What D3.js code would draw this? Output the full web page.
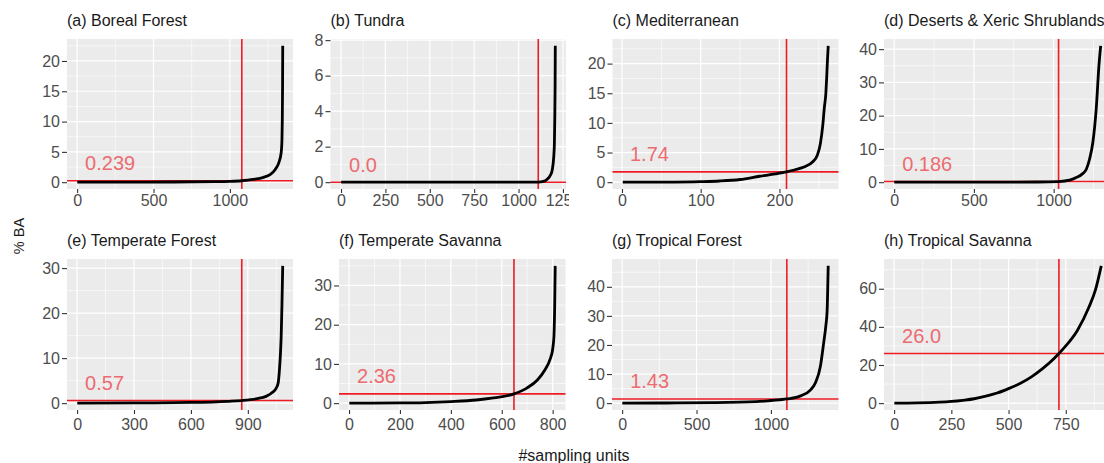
<!DOCTYPE html>
<html>
<head>
<meta charset="utf-8">
<script src="https://cdn.jsdelivr.net/npm/d3@7"></script>
<style>
  body { margin: 0; background: #fff; }
  svg { display: block; font-family: "Liberation Sans", Arial, sans-serif; }
</style>
</head>
<body>
<div id="wrapper"></div>
<script>
// 1. Data

const biomes = ["(a) Boreal Forest", "(b) Tundra", "(c) Mediterranean", "(d) Deserts & Xeric Shrublands",
  "(e) Temperate Forest", "(f) Temperate Savanna", "(g) Tropical Forest", "(h) Tropical Savanna"]

const cutRank = [1078, 1111, 209, 1031, 868, 648, 1107, 720]
const cutValue = [0.239, 0.0, 1.74, 0.186, 0.57, 2.36, 1.43, 26.0]
const cutLabel = ["0.239", "0.0", "1.74", "0.186", "0.57", "2.36", "1.43", "26.0"]

const xTicks = [
  [0, 500, 1000], [0, 250, 500, 750, 1000, 1250], [0, 100, 200], [0, 500, 1000],
  [0, 300, 600, 900], [0, 200, 400, 600, 800], [0, 500, 1000], [0, 250, 500, 750]]
const yTicks = [
  [0, 5, 10, 15, 20], [0, 2, 4, 6, 8], [0, 5, 10, 15, 20], [0, 10, 20, 30, 40],
  [0, 10, 20, 30], [0, 10, 20, 30], [0, 10, 20, 30, 40], [0, 20, 40, 60]]

// sorted %BA per sampling unit: [rank, value]
const borealForest = [[1, 0], [300, 0.01], [600, 0.03], [900, 0.08], [1000, 0.13], [1078, 0.239],
  [1150, 0.45], [1220, 0.8], [1265, 1.3], [1297, 2.1], [1320, 3.2], [1336, 4.9], [1341, 7],
  [1343, 10], [1345, 16], [1346, 22.5]]
const tundra = [[1, 0], [600, 0], [1111, 0], [1140, 0.04], [1160, 0.15], [1180, 0.4], [1190, 0.7],
  [1198, 1.4], [1202, 2.2], [1204, 3.5], [1206, 5.5], [1207, 7.68]]
const mediterranean = [[1, 0], [50, 0.02], [100, 0.1], [124, 0.2], [150, 0.45], [175, 1.0], [195, 1.4],
  [209, 1.74], [220, 2.1], [232, 2.6], [242, 3.4], [248, 4.5], [252, 6.5], [255, 9.5], [257, 12.5],
  [259, 15], [260, 17.5], [261, 20.5], [262, 23]]
const deserts = [[1, 0], [500, 0.01], [900, 0.05], [1031, 0.186], [1100, 0.6], [1142, 1.4], [1180, 2.5],
  [1205, 3.9], [1225, 6.9], [1246, 12], [1267, 22], [1284, 35], [1295, 41]]
const temperateForest = [[1, 0], [300, 0.05], [600, 0.15], [800, 0.4], [868, 0.57], [950, 1.0], [996, 1.5],
  [1030, 2.4], [1049, 3.3], [1060, 4.5], [1066, 7], [1072, 11], [1076, 15], [1080, 22], [1084, 30.5]]
const temperateSavanna = [[1, 0], [200, 0.05], [300, 0.15], [400, 0.4], [500, 0.8], [560, 1.25], [648, 2.36],
  [700, 3.9], [740, 5.9], [770, 8.5], [790, 11.2], [800, 13.75], [805, 17], [808, 25], [810, 35]]
const tropicalForest = [[1, 0], [300, 0.05], [600, 0.15], [900, 0.5], [1000, 0.9], [1107, 1.43], [1200, 2.5],
  [1265, 4.5], [1300, 7.1], [1333, 12.8], [1355, 20.9], [1370, 27], [1378, 32], [1382, 40], [1385, 47.2]]
const tropicalSavanna = [[1, 0], [100, 0.1], [200, 0.5], [250, 0.9], [300, 1.5], [350, 2.3], [400, 3.7],
  [450, 5.3], [500, 7.6], [550, 10.3], [600, 13.8], [650, 18.2], [700, 23.5], [720, 26], [750, 30],
  [800, 38], [850, 50], [880, 59.5], [905, 72]]

const curves = [borealForest, tundra, mediterranean, deserts,
  temperateForest, temperateSavanna, tropicalForest, tropicalSavanna]

// 2. Layout

const width = 1104
const height = 463
const panelLeft = [67, 330.5, 612.5, 884, 67, 339, 612, 884]
const panelRight = [293, 566, 838.5, 1111, 293, 565.5, 838.5, 1111.6]
const rowTop = [39, 259]
const rowBottom = [189, 410]
const colClip = [[0, 300], [300, 569], [569, 846], [846, width]]

const wrapper = d3.select("#wrapper")
  .append("svg")
    .attr("width", width)
    .attr("height", height)

const defs = wrapper.append("defs")

curves.forEach((data, i) => {
  const row = i < 4 ? 0 : 1
  const col = i % 4
  const left = panelLeft[i], right = panelRight[i]
  const top = rowTop[row], bottom = rowBottom[row]

  const n = d3.max(data, d => d[0])
  const yMax = d3.max(data, d => d[1])
  const xPad = 0.05 * (n - 1)
  const yPad = 0.05 * yMax

  const xScale = d3.scaleLinear()
    .domain([1 - xPad, n + xPad])
    .range([left, right])
  const yScale = d3.scaleLinear()
    .domain([-yPad, yMax + yPad])
    .range([bottom, top])

  defs.append("clipPath")
      .attr("id", "clip" + i)
    .append("rect")
      .attr("x", colClip[col][0])
      .attr("y", row ? 225 : 0)
      .attr("width", colClip[col][1] - colClip[col][0])
      .attr("height", row ? height - 225 : 225)

  const bounds = wrapper.append("g")
      .attr("clip-path", `url(#clip${i})`)

  // panel background
  bounds.append("rect")
      .attr("x", left)
      .attr("y", top)
      .attr("width", right - left)
      .attr("height", bottom - top)
      .attr("fill", "#EBEBEB")

  // minor + major grid
  const minor = (ticks, scale) => {
    const step = ticks[1] - ticks[0]
    const dom = scale.domain()
    const out = []
    for (let v = ticks[0] - step / 2; v <= dom[1]; v += step) {
      if (v >= dom[0]) out.push(v)
    }
    return out
  }

  const grid = bounds.append("g").attr("stroke", "#fff")
  grid.selectAll(".xminor")
    .data(minor(xTicks[i], xScale))
    .join("line")
      .attr("x1", d => xScale(d)).attr("x2", d => xScale(d))
      .attr("y1", top).attr("y2", bottom)
      .attr("stroke-width", 0.6)
  grid.selectAll(".yminor")
    .data(minor(yTicks[i], yScale))
    .join("line")
      .attr("y1", d => yScale(d)).attr("y2", d => yScale(d))
      .attr("x1", left).attr("x2", right)
      .attr("stroke-width", 0.6)
  grid.selectAll(".xmajor")
    .data(xTicks[i])
    .join("line")
      .attr("x1", d => xScale(d)).attr("x2", d => xScale(d))
      .attr("y1", top).attr("y2", bottom)
      .attr("stroke-width", 1.2)
  grid.selectAll(".ymajor")
    .data(yTicks[i])
    .join("line")
      .attr("y1", d => yScale(d)).attr("y2", d => yScale(d))
      .attr("x1", left).attr("x2", right)
      .attr("stroke-width", 1.2)

  // threshold lines
  bounds.append("line")
      .attr("x1", left).attr("x2", right)
      .attr("y1", yScale(cutValue[i])).attr("y2", yScale(cutValue[i]))
      .attr("stroke", "#EE1C25")
      .attr("stroke-width", 1.6)
  bounds.append("line")
      .attr("x1", xScale(cutRank[i])).attr("x2", xScale(cutRank[i]))
      .attr("y1", top).attr("y2", bottom)
      .attr("stroke", "#EE1C25")
      .attr("stroke-width", 1.6)

  // the sorted curve
  const lineGenerator = d3.line()
    .curve(d3.curveMonotoneX)
    .x(d => xScale(d[0]))
    .y(d => yScale(d[1]))

  bounds.append("path")
      .attr("d", lineGenerator(data))
      .attr("fill", "none")
      .attr("stroke", "#000")
      .attr("stroke-width", 2.8)
      .attr("stroke-linejoin", "round")

  bounds.append("text")
      .attr("x", xScale(0) + 8)
      .attr("y", yScale(cutValue[i]) - 10.5)
      .attr("fill", "#EC6B71")
      .style("font-size", "20px")
      .text(cutLabel[i])

  // axes
  const xAxis = bounds.append("g")
      .attr("transform", `translate(0,${bottom})`)
      .call(d3.axisBottom(xScale)
        .tickValues(xTicks[i])
        .tickFormat(d => d)
        .tickSize(4)
        .tickPadding(row ? 4.5 : 1.5))
  const yAxis = bounds.append("g")
      .attr("transform", `translate(${left},0)`)
      .call(d3.axisLeft(yScale)
        .tickValues(yTicks[i])
        .tickFormat(d => d)
        .tickSize(5)
        .tickPadding(2))

  ;[xAxis, yAxis].forEach(ax => {
    ax.select(".domain").remove()
    ax.selectAll(".tick line").attr("stroke", "#333").attr("stroke-width", 1.1)
    ax.selectAll(".tick text")
      .attr("fill", "#4D4D4D")
      .style("font-size", "16px")
      .style("font-family", "'Liberation Sans', Arial, sans-serif")
  })

  bounds.append("text")
      .attr("x", left)
      .attr("y", top - 13)
      .attr("fill", "#1A1A1A")
      .style("font-size", "16px")
      .text(biomes[i])
})

// 3. Axis titles

wrapper.append("text")
    .attr("transform", "translate(24,236) rotate(-90)")
    .attr("text-anchor", "middle")
    .attr("fill", "#1A1A1A")
    .style("font-size", "14.5px")
    .text("% BA")

wrapper.append("text")
    .attr("x", 574)
    .attr("y", 461)
    .attr("text-anchor", "middle")
    .attr("fill", "#1A1A1A")
    .style("font-size", "16px")
    .text("#sampling units")
</script>
</body>
</html>
